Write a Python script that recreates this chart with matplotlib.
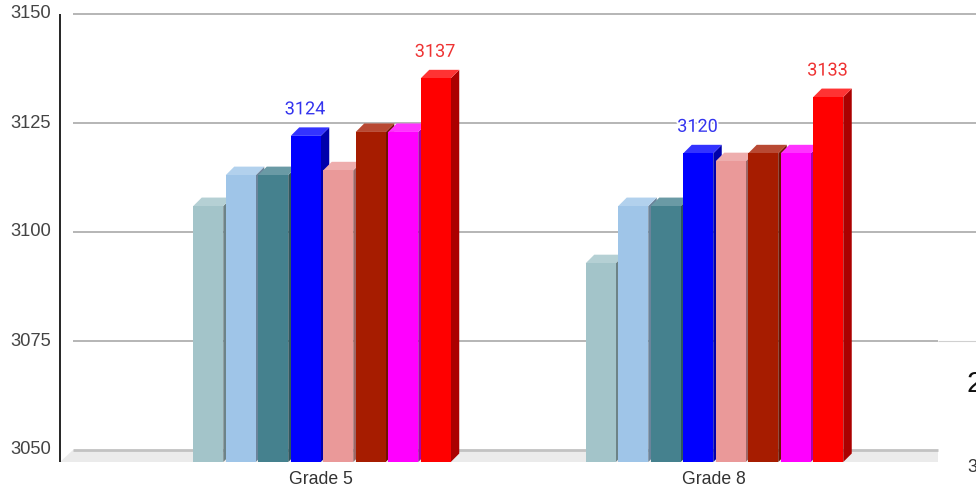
import matplotlib
matplotlib.use("Agg")
import matplotlib.pyplot as plt
import matplotlib.patheffects as pe
from matplotlib.colors import to_rgb

plt.rcParams['font.family'] = ['Liberation Sans', 'DejaVu Sans']

# data
categories = ['Grade 5', 'Grade 8']
grade5 = [3108.7, 3115.8, 3115.8, 3124.8, 3116.9, 3125.7, 3125.7, 3138.0]
grade8 = [3095.6, 3108.7, 3108.7, 3120.8, 3119.0, 3120.8, 3120.8, 3133.7]
series_values = [grade5, grade8]
bar_colors = ['#a3c4c9', '#9fc5e8', '#45818e', '#0000ff', '#ea9999', '#a61c00', '#ff00ff', '#ff0000']
y_ticks = [3050, 3075, 3100, 3125, 3150]
# series index -> label per category
labelled = {3: ['3124', '3120'], 7: ['3137', '3133']}
label_colors = {3: '#3333ee', 7: '#ee3333'}

W, H = 976, 491
PX_PER_UNIT = 4.36
PX_PER_CAT = 392.5
BASE_PY = 462.0
CENTER0_PX = 322.0


def y_of(py):
    return 3050 + (BASE_PY - py) / PX_PER_UNIT


def x_of(px):
    return (px - CENTER0_PX) / PX_PER_CAT


def lighten(c, a=0.2):
    return tuple(v + (1 - v) * a for v in to_rgb(c))


def darken(c, a=0.67):
    return tuple(v * a for v in to_rgb(c))


fig = plt.figure(figsize=(W / 100, H / 100), dpi=100)
ax = fig.add_axes([0, 0, 1, 1])
ax.set_xlim(x_of(0), x_of(W))
ax.set_ylim(y_of(H), y_of(0))
ax.axis('off')

# depth of the fake 3d, in data units
floor_dy = 12 / PX_PER_UNIT
floor_dx = 13 / PX_PER_CAT
bar_dx = 8.5 / PX_PER_CAT
bar_dy = 8.5 / PX_PER_UNIT
pitch = 32.5 / PX_PER_CAT
width = 30.0 / PX_PER_CAT

# floor
left = x_of(60)
right = x_of(938)
ax.fill([left, left + floor_dx, right, right], [3050, 3050 + floor_dy, 3050 + floor_dy, 3050],
        color='#ebebeb', lw=0, zorder=1)

# gridlines sit on the back wall
for t in y_ticks:
    gy = t + floor_dy
    if t == 3050:
        ax.plot([left + floor_dx, right], [gy, gy], color='#c2c2c2', lw=2.0, zorder=2, solid_capstyle='butt')
    elif t == 3075:
        ax.plot([left + floor_dx, right], [gy, gy], color='#b0b0b0', lw=1.3, zorder=2, solid_capstyle='butt')
        ax.plot([right, x_of(W)], [gy, gy], color='#d0d0d0', lw=0.8, zorder=2, solid_capstyle='butt')
    else:
        ax.plot([left + floor_dx, x_of(W)], [gy, gy], color='#b0b0b0', lw=1.3, zorder=2, solid_capstyle='butt')
    ax.text(x_of(51), gy, str(t), ha='right', va='center', fontsize=13.2, color='#444444')

# y axis line
ax.plot([left, left], [3050, 3150 + floor_dy], color='black', lw=1.2, zorder=6, solid_capstyle='butt')

# bars, left to right so each one covers the side of the previous
z = 3.0
for i, vals in enumerate(series_values):
    for j, v in enumerate(vals):
        x0 = i + (j - 3.5) * pitch - width / 2
        x1 = x0 + width
        c = bar_colors[j]
        ax.fill([x1, x1 + bar_dx, x1 + bar_dx, x1], [3050, 3050 + bar_dy, v + bar_dy, v],
                color=darken(c), lw=0, zorder=z)
        ax.fill([x0, x0 + bar_dx, x1 + bar_dx, x1], [v, v + bar_dy, v + bar_dy, v],
                color=lighten(c), lw=0, zorder=z)
        ax.bar(x0, v - 3050, width=width, bottom=3050, align='edge', color=c, lw=0, zorder=z + 0.01)
        z += 0.1
        if j in labelled:
            ax.text(x0 + width / 2 - 0.002, v + 26.5 / PX_PER_UNIT, labelled[j][i], ha='center', va='center',
                    fontsize=13, color=label_colors[j], family=['Roboto', 'DejaVu Sans'], zorder=8,
                    path_effects=[pe.withStroke(linewidth=2.5, foreground='white')])

# category labels
for i, name in enumerate(categories):
    ax.text(i - 0.002, y_of(480), name, ha='center', va='center', fontsize=12.7, color='#333333')

# cut off text at the right edge of the picture
ax.text(x_of(967), y_of(384), '2', ha='left', va='center', fontsize=21, color='#111111', clip_on=True)
ax.text(x_of(967), y_of(467), '3', ha='left', va='center', fontsize=13, color='#333333', clip_on=True)

fig.savefig('out.png', dpi=100)
